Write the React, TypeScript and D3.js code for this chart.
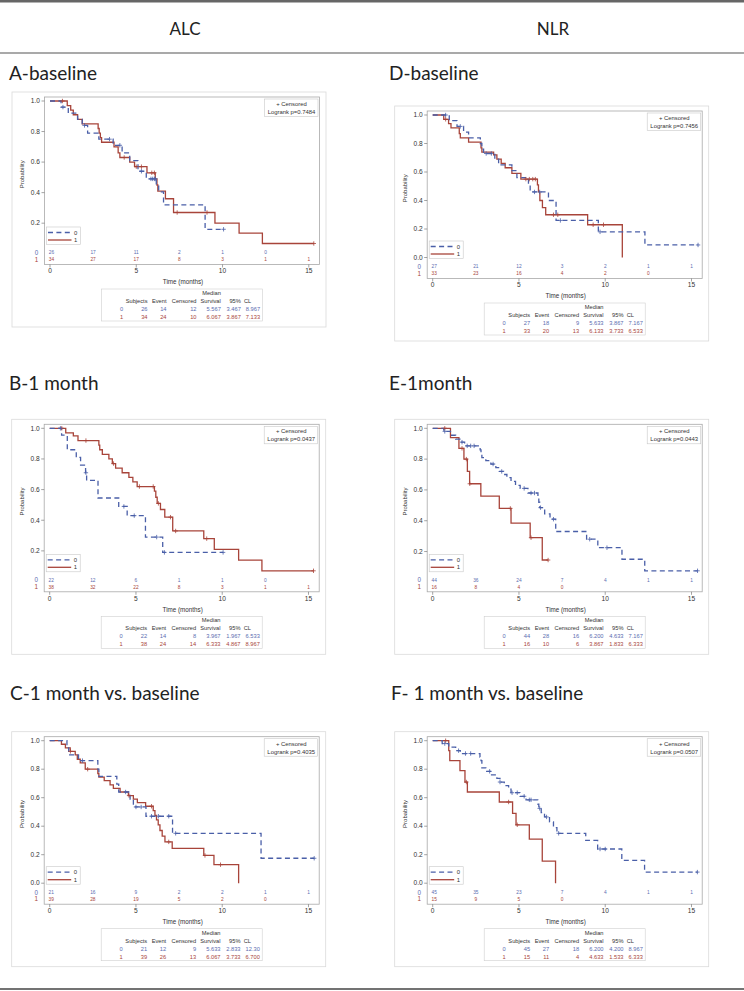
import React from "react";
import * as d3 from "d3";

type Step = [number, number];

// ---------------- Values ----------------
const columnHeaders = ["ALC", "NLR"];
const panelTitles = ["A-baseline", "B-1 month", "C-1 month vs. baseline", "D-baseline", "E-1month", "F- 1 month vs. baseline"];
const logrankP = ["0.7484", "0.0437", "0.4035", "0.7456", "0.0443", "0.0507"];
const xTicks = [0, 5, 10, 15];
const riskTimes = [0, 2.5, 5, 7.5, 10, 12.5, 15];
const yTickValues = [0, 0.2, 0.4, 0.6, 0.8, 1.0];
const tableHeader = ["Subjects", "Event", "Censored", "Survival", "95%"];

// Panel A (ALC baseline)
const aSteps0: Step[] = [[0.64, 0.96], [1.06, 0.92], [1.6, 0.88], [1.87, 0.84], [2.18, 0.79], [2.83, 0.75], [3.66, 0.71], [4.18, 0.66], [4.62, 0.61], [5.1, 0.54], [5.58, 0.49], [6.16, 0.45], [6.3, 0.405], [6.58, 0.32], [8.99, 0.16]];
const aEnd0 = 10.06;
const aCens0 = [0.75, 2.0, 3.45, 4.05, 5.3, 5.85, 5.95, 6.05, 6.1, 10.06];
const aSteps1: Step[] = [[1.0, 0.97], [1.2, 0.94], [1.35, 0.91], [1.6, 0.88], [1.87, 0.85], [2.79, 0.82], [2.85, 0.79], [2.92, 0.76], [2.99, 0.73], [3.71, 0.70], [3.95, 0.66], [4.05, 0.63], [4.62, 0.60], [4.9, 0.57], [5.62, 0.53], [6.1, 0.49], [6.2, 0.45], [6.25, 0.41], [6.69, 0.36], [7.16, 0.27], [9.56, 0.20], [10.96, 0.135], [12.31, 0.067]];
const aEnd1 = 15.29;
const aCens1 = [0.72, 4.3, 5.0, 5.3, 5.9, 6.05, 7.37, 9.1, 15.29];
const aRisk0 = [26, 17, 11, 2, 1, 0];
const aRisk1 = [34, 27, 17, 8, 3, 1, 1];
const aTable0 = ["26", "14", "12", "5.567", "3.467", "8.967"];
const aTable1 = ["34", "24", "10", "6.067", "3.867", "7.133"];

// Panel B (ALC 1 month)
const bSteps0: Step[] = [[0.69, 0.955], [1.02, 0.86], [1.54, 0.81], [1.79, 0.76], [2.08, 0.71], [2.14, 0.66], [2.8, 0.545], [4.0, 0.49], [4.49, 0.43], [5.55, 0.29], [6.55, 0.19]];
const bEnd0 = 10.05;
const bCens0 = [0.62, 2.1, 4.3, 4.9, 6.2, 6.65, 10.05];
const bSteps1: Step[] = [[0.93, 0.97], [1.37, 0.95], [1.64, 0.92], [2.85, 0.89], [2.9, 0.86], [3.05, 0.83], [3.43, 0.80], [3.63, 0.77], [3.82, 0.74], [4.2, 0.71], [4.59, 0.68], [4.82, 0.65], [5.07, 0.62], [6.07, 0.59], [6.15, 0.55], [6.23, 0.51], [6.42, 0.47], [6.67, 0.42], [7.13, 0.33], [8.93, 0.28], [9.54, 0.21], [10.95, 0.14], [12.3, 0.07]];
const bEnd1 = 15.29;
const bCens1 = [0.7, 2.1, 3.7, 5.2, 6.0, 6.3, 7.0, 7.3, 9.1, 15.29];
const bRisk0 = [22, 12, 6, 1, 1, 0];
const bRisk1 = [38, 32, 22, 8, 3, 1, 1];
const bTable0 = ["22", "14", "8", "3.967", "1.967", "6.533"];
const bTable1 = ["38", "24", "14", "6.333", "4.867", "8.967"];

// Panel C (ALC 1 month vs. baseline)
const cSteps0: Step[] = [[1.0, 0.95], [1.1, 0.90], [1.67, 0.86], [2.79, 0.80], [2.85, 0.75], [3.89, 0.695], [4.0, 0.64], [4.66, 0.59], [4.85, 0.535], [5.58, 0.47], [7.12, 0.35], [12.25, 0.175]];
const cEnd0 = 15.33;
const cCens0 = [1.9, 4.4, 5.0, 5.3, 5.9, 6.3, 6.9, 7.3, 15.33];
const cSteps1: Step[] = [[0.68, 0.975], [0.91, 0.95], [1.19, 0.925], [1.48, 0.90], [1.6, 0.87], [1.77, 0.845], [2.06, 0.80], [2.79, 0.77], [2.85, 0.745], [3.16, 0.72], [3.5, 0.69], [3.69, 0.665], [4.08, 0.64], [4.56, 0.615], [4.85, 0.59], [5.08, 0.565], [5.56, 0.54], [6.0, 0.51], [6.1, 0.475], [6.19, 0.445], [6.29, 0.41], [6.39, 0.37], [6.52, 0.33], [6.68, 0.29], [7.1, 0.245], [8.93, 0.195], [9.52, 0.13], [10.95, 0]];
const cEnd1 = 10.95;
const cCens1 = [1.2, 2.2, 4.6, 5.9, 6.9, 9.0, 9.9];
const cRisk0 = [21, 16, 9, 2, 2, 1, 1];
const cRisk1 = [39, 28, 19, 5, 2, 0];
const cTable0 = ["21", "12", "9", "5.633", "2.833", "12.30"];
const cTable1 = ["39", "26", "13", "6.067", "3.733", "6.700"];

// Panel D (NLR baseline)
const dSteps0: Step[] = [[0.96, 0.96], [1.41, 0.92], [1.79, 0.88], [2.08, 0.84], [2.76, 0.80], [2.85, 0.76], [2.95, 0.73], [3.6, 0.69], [3.82, 0.65], [4.59, 0.61], [4.88, 0.56], [5.55, 0.51], [5.65, 0.46], [6.71, 0.40], [7.15, 0.26], [9.6, 0.18], [12.3, 0.088]];
const dEnd0 = 15.38;
const dCens0 = [0.75, 1.6, 3.1, 3.4, 5.9, 6.2, 7.4, 9.7, 15.38];
const dSteps1: Step[] = [[0.64, 0.97], [0.92, 0.94], [1.06, 0.91], [1.54, 0.87], [1.6, 0.84], [2.08, 0.81], [2.8, 0.77], [2.85, 0.74], [3.53, 0.72], [3.72, 0.69], [3.97, 0.66], [4.2, 0.63], [4.59, 0.59], [5.11, 0.55], [6.07, 0.51], [6.13, 0.46], [6.21, 0.40], [6.36, 0.35], [6.55, 0.30], [8.98, 0.23], [10.99, 0]];
const dEnd1 = 10.99;
const dCens1 = [0.75, 5.4, 5.6, 5.8, 5.95, 7.0, 7.25, 9.3, 9.9];
const dRisk0 = [27, 21, 12, 3, 2, 1, 1];
const dRisk1 = [33, 23, 16, 4, 2, 0];
const dTable0 = ["27", "18", "9", "5.633", "3.867", "7.167"];
const dTable1 = ["33", "20", "13", "6.133", "3.733", "6.533"];

// Panel E (NLR 1 month)
const eSteps0: Step[] = [[0.64, 0.98], [1.03, 0.955], [1.33, 0.93], [1.62, 0.91], [1.85, 0.886], [2.75, 0.86], [2.8, 0.835], [2.85, 0.81], [3.08, 0.79], [3.37, 0.768], [3.66, 0.745], [3.86, 0.72], [4.11, 0.70], [4.3, 0.68], [4.54, 0.655], [4.8, 0.63], [5.07, 0.61], [5.52, 0.58], [6.1, 0.55], [6.15, 0.52], [6.2, 0.485], [6.49, 0.445], [6.8, 0.41], [7.13, 0.33], [8.92, 0.28], [9.57, 0.225], [10.97, 0.15], [12.29, 0.075]];
const eEnd0 = 15.35;
const eCens0 = [0.7, 1.7, 2.0, 2.2, 2.4, 3.5, 4.0, 5.3, 5.7, 5.9, 6.25, 7.0, 9.1, 10.1, 15.35];
const eSteps1: Step[] = [[1.03, 0.94], [1.52, 0.87], [1.81, 0.80], [2.01, 0.72], [2.14, 0.64], [2.79, 0.56], [3.86, 0.48], [4.54, 0.385], [5.65, 0.29], [6.35, 0.145]];
const eEnd1 = 6.69;
const eCens1 = [0.7, 1.7, 1.95, 2.15, 4.5, 5.7, 6.69];
const eRisk0 = [44, 36, 24, 7, 4, 1, 1];
const eRisk1 = [16, 8, 4, 0];
const eTable0 = ["44", "28", "16", "6.200", "4.633", "7.167"];
const eTable1 = ["16", "10", "6", "3.867", "1.833", "6.333"];

// Panel F (NLR 1 month vs. baseline)
const fSteps0: Step[] = [[0.55, 0.98], [0.93, 0.955], [1.33, 0.93], [1.6, 0.91], [2.74, 0.885], [2.8, 0.86], [2.85, 0.81], [3.08, 0.785], [3.41, 0.76], [3.72, 0.735], [3.9, 0.71], [4.15, 0.685], [4.4, 0.66], [4.54, 0.635], [5.06, 0.61], [5.41, 0.585], [6.09, 0.555], [6.15, 0.525], [6.29, 0.495], [6.48, 0.465], [6.77, 0.43], [7.0, 0.39], [7.2, 0.35], [8.87, 0.30], [9.56, 0.24], [10.96, 0.16], [12.28, 0.078]];
const fEnd0 = 15.34;
const fCens0 = [0.7, 1.5, 1.9, 2.2, 3.3, 3.9, 4.6, 4.9, 5.3, 5.6, 5.7, 6.2, 6.6, 7.3, 9.7, 10.0, 15.34];
const fSteps1: Step[] = [[0.93, 0.93], [0.99, 0.86], [1.58, 0.79], [1.87, 0.71], [2.01, 0.64], [3.86, 0.57], [4.63, 0.49], [4.83, 0.41], [5.6, 0.31], [6.35, 0.155], [7.12, 0]];
const fEnd1 = 7.12;
const fCens1 = [0.75, 1.95, 4.4, 4.9];
const fRisk0 = [45, 35, 23, 7, 4, 1, 1];
const fRisk1 = [15, 9, 5, 0];
const fTable0 = ["45", "27", "18", "6.200", "4.200", "8.967"];
const fTable1 = ["15", "11", "4", "4.633", "1.533", "6.333"];

// ---------------- Styling / layout ----------------
const BLUE = "#4a5fa8";
const BLUE_TXT = "#5b6cb0";
const RED = "#a8443a";
const RED_TXT = "#a8443a";
const SAS_FONT = "'Liberation Sans', Arial, sans-serif";
const TITLE_FONT = "Lato, 'Open Sans', sans-serif";

const PW = 314;
const PH = 235;
const LY = {
  plotLeft: 32.5, plotRight: 307.5, plotTop: 5, plotBottom: 172.5,
  x0: 38, x15: 296.8, yTop: 9, yBot: 151.5,
  risk0: 160.8, risk1: 167.6, tickLab: 179, timeLab: 190,
  tableLeft: 89.5, tableTop: 197, tableW: 161, tableH: 32,
};

interface PanelDef {
  ox: number; oy: number; title: string; tx: number; ty: number; p: string;
  steps0: Step[]; end0: number; cens0: number[];
  steps1: Step[]; end1: number; cens1: number[];
  risk0: number[]; risk1: number[]; table0: string[]; table1: string[];
}

const panels: PanelDef[] = [
  { ox: 12, oy: 92, title: panelTitles[0], tx: 9, ty: 80, p: logrankP[0], steps0: aSteps0, end0: aEnd0, cens0: aCens0, steps1: aSteps1, end1: aEnd1, cens1: aCens1, risk0: aRisk0, risk1: aRisk1, table0: aTable0, table1: aTable1 },
  { ox: 11.7, oy: 419.3, title: panelTitles[1], tx: 9, ty: 390, p: logrankP[1], steps0: bSteps0, end0: bEnd0, cens0: bCens0, steps1: bSteps1, end1: bEnd1, cens1: bCens1, risk0: bRisk0, risk1: bRisk1, table0: bTable0, table1: bTable1 },
  { ox: 11.7, oy: 731.7, title: panelTitles[2], tx: 10, ty: 700, p: logrankP[2], steps0: cSteps0, end0: cEnd0, cens0: cCens0, steps1: cSteps1, end1: cEnd1, cens1: cCens1, risk0: cRisk0, risk1: cRisk1, table0: cTable0, table1: cTable1 },
  { ox: 394.7, oy: 106, title: panelTitles[3], tx: 389, ty: 80, p: logrankP[3], steps0: dSteps0, end0: dEnd0, cens0: dCens0, steps1: dSteps1, end1: dEnd1, cens1: dCens1, risk0: dRisk0, risk1: dRisk1, table0: dTable0, table1: dTable1 },
  { ox: 394.7, oy: 419.3, title: panelTitles[4], tx: 389, ty: 390, p: logrankP[4], steps0: eSteps0, end0: eEnd0, cens0: eCens0, steps1: eSteps1, end1: eEnd1, cens1: eCens1, risk0: eRisk0, risk1: eRisk1, table0: eTable0, table1: eTable1 },
  { ox: 394.7, oy: 731.7, title: panelTitles[5], tx: 391, ty: 700, p: logrankP[5], steps0: fSteps0, end0: fEnd0, cens0: fCens0, steps1: fSteps1, end1: fEnd1, cens1: fCens1, risk0: fRisk0, risk1: fRisk1, table0: fTable0, table1: fTable1 },
];

function survAt(steps: Step[], t: number): number {
  let s = 1;
  for (const [tt, v] of steps) if (tt <= t + 1e-9) s = v;
  return s;
}

function KMPanel({ d }: { d: PanelDef }) {
  const x = d3.scaleLinear().domain([0, 15]).range([LY.x0, LY.x15]);
  const pmin = Math.min(d3.min(d.steps0, (s) => s[1]) ?? 0, d3.min(d.steps1, (s) => s[1]) ?? 0);
  const y = d3.scaleLinear().domain([pmin, 1]).range([LY.yBot, LY.yTop]);
  const line = d3.line<Step>().x((s) => x(s[0])).y((s) => y(s[1])).curve(d3.curveStepAfter);
  const pts = (steps: Step[], end: number): Step[] => [[0, 1], ...steps, [end, steps[steps.length - 1][1]]];
  const yTicks = yTickValues.filter((v) => v >= pmin - 1e-9);
  const fmt = d3.format(".1f");
  const cross = (t: number, steps: Step[], color: string, key: string) => {
    const cx = x(t), cy = y(survAt(steps, t));
    return (
      <g key={key} stroke={color} strokeWidth={0.8}>
        <line x1={cx - 2.2} x2={cx + 2.2} y1={cy} y2={cy} />
        <line x1={cx} x2={cx} y1={cy - 2.2} y2={cy + 2.2} />
      </g>
    );
  };
  const tl = LY.tableLeft;
  const cols = [46, 65, 95, 119.3, 139.3, 158.6];
  const rowY = [LY.tableTop + 20, LY.tableTop + 28];
  return (
    <g transform={`translate(${d.ox},${d.oy})`}>
      <rect x={0} y={0} width={PW} height={PH} fill="#fff" stroke="#dadada" strokeWidth={0.8} />
      <rect x={LY.plotLeft} y={LY.plotTop} width={LY.plotRight - LY.plotLeft} height={LY.plotBottom - LY.plotTop} fill="#fff" stroke="#a8a8a8" strokeWidth={0.8} />
      {yTicks.map((v) => (
        <g key={"yt" + v}>
          <line x1={LY.plotLeft - 3} x2={LY.plotLeft} y1={y(v)} y2={y(v)} stroke="#666" strokeWidth={0.6} />
          <text x={LY.plotLeft - 4.5} y={y(v)} dy="0.35em" textAnchor="end" fontSize={6.6} fontFamily={SAS_FONT} fill="#333">{fmt(v)}</text>
        </g>
      ))}
      <text transform={`translate(10,${(LY.yTop + LY.yBot) / 2 + 2}) rotate(-90)`} textAnchor="middle" dy="0.35em" fontSize={6} fontFamily={SAS_FONT} fill="#333">Probability</text>
      {xTicks.map((v) => (
        <g key={"xt" + v}>
          <line x1={x(v)} x2={x(v)} y1={LY.plotBottom} y2={LY.plotBottom + 3} stroke="#666" strokeWidth={0.6} />
          <text x={x(v)} y={LY.tickLab} dy="0.35em" textAnchor="middle" fontSize={6.6} fontFamily={SAS_FONT} fill="#333">{v}</text>
        </g>
      ))}
      <text x={(LY.plotLeft + LY.plotRight) / 2 + 1} y={LY.timeLab} dy="0.35em" textAnchor="middle" fontSize={6.3} fontFamily={SAS_FONT} fill="#333">Time (months)</text>
      <path d={line(pts(d.steps1, d.end1)) ?? ""} fill="none" stroke={RED} strokeWidth={1.3} />
      <path d={line(pts(d.steps0, d.end0)) ?? ""} fill="none" stroke={BLUE} strokeWidth={1.3} strokeDasharray="5 3.4" />
      {d.cens1.map((t, i) => cross(t, d.steps1, RED, "c1" + i))}
      {d.cens0.map((t, i) => cross(t, d.steps0, BLUE, "c0" + i))}
      <rect x={LY.plotRight - 55} y={7} width={53.5} height={17.5} fill="#fff" stroke="#c8c8c8" strokeWidth={0.6} />
      <text x={LY.plotRight - 28} y={12} dy="0.35em" textAnchor="middle" fontSize={5.9} fontFamily={SAS_FONT} fill="#333">+ Censored</text>
      <text x={LY.plotRight - 28} y={20} dy="0.35em" textAnchor="middle" fontSize={5.9} fontFamily={SAS_FONT} fill="#333">{"Logrank p=" + d.p}</text>
      <rect x={LY.plotLeft + 2} y={135} width={34} height={17.5} fill="#fff" stroke="#c8c8c8" strokeWidth={0.6} />
      <line x1={LY.plotLeft + 3.5} x2={LY.plotLeft + 27} y1={140.5} y2={140.5} stroke={BLUE} strokeWidth={1.3} strokeDasharray="5 3.4" />
      <text x={LY.plotLeft + 29.5} y={140.5} dy="0.35em" fontSize={5.9} fontFamily={SAS_FONT} fill="#333">0</text>
      <line x1={LY.plotLeft + 3.5} x2={LY.plotLeft + 27} y1={148} y2={148} stroke={RED} strokeWidth={1.3} />
      <text x={LY.plotLeft + 29.5} y={148} dy="0.35em" fontSize={5.9} fontFamily={SAS_FONT} fill="#333">1</text>
      <text x={LY.plotLeft - 8} y={LY.risk0} dy="0.35em" textAnchor="middle" fontSize={6.3} fontFamily={SAS_FONT} fill={BLUE_TXT}>0</text>
      <text x={LY.plotLeft - 8} y={LY.risk1} dy="0.35em" textAnchor="middle" fontSize={6.3} fontFamily={SAS_FONT} fill={RED_TXT}>1</text>
      {d.risk0.map((n, i) => (
        <text key={"r0" + i} x={x(riskTimes[i]) + (i === 0 ? 1.5 : 0)} y={LY.risk0} dy="0.35em" textAnchor="middle" fontSize={4.8} fontFamily={SAS_FONT} fill={BLUE_TXT}>{n}</text>
      ))}
      {d.risk1.map((n, i) => (
        <text key={"r1" + i} x={x(riskTimes[i]) + (i === 0 ? 1.5 : 0)} y={LY.risk1} dy="0.35em" textAnchor="middle" fontSize={4.8} fontFamily={SAS_FONT} fill={RED_TXT}>{n}</text>
      ))}
      <rect x={tl} y={LY.tableTop} width={LY.tableW} height={LY.tableH} fill="#fff" stroke="#cfcfcf" strokeWidth={0.6} />
      <g fontSize={5.7} fontFamily={SAS_FONT}>
        <text x={tl + cols[3]} y={LY.tableTop + 4} dy="0.35em" textAnchor="end" fill="#333">Median</text>
        {tableHeader.map((h, i) => (
          <text key={"h" + i} x={tl + cols[i === 4 ? 4 : i]} y={LY.tableTop + 12} dy="0.35em" textAnchor="end" fill="#333">{h}</text>
        ))}
        <text x={tl + 142.5} y={LY.tableTop + 12} dy="0.35em" fill="#333">CL</text>
        {[d.table0, d.table1].map((row, r) => (
          <g key={"row" + r} fill={r === 0 ? BLUE_TXT : RED_TXT}>
            <text x={tl + 20} y={rowY[r]} dy="0.35em" textAnchor="middle">{r}</text>
            {row.map((v, i) => (
              <text key={i} x={tl + cols[i]} y={rowY[r]} dy="0.35em" textAnchor="end">{v}</text>
            ))}
          </g>
        ))}
      </g>
    </g>
  );
}

export default function App() {
  return (
    <svg width={744} height={991} viewBox="0 0 744 991" style={{ position: "absolute", left: 0, top: 0, background: "#fff" }}>
      <rect x={0} y={0} width={744} height={991} fill="#fff" />
      <line x1={0} x2={744} y1={1.2} y2={1.2} stroke="#666" strokeWidth={2.4} />
      <text x={185} y={29} dy="0.35em" textAnchor="middle" fontSize={17} fontFamily={TITLE_FONT} fill="#222">{columnHeaders[0]}</text>
      <text x={553} y={29} dy="0.35em" textAnchor="middle" fontSize={17} fontFamily={TITLE_FONT} fill="#222">{columnHeaders[1]}</text>
      <line x1={0} x2={744} y1={53} y2={53} stroke="#555" strokeWidth={1.2} />
      {panels.map((d, i) => (
        <text key={"t" + i} x={d.tx} y={d.ty} fontSize={19} fontFamily={TITLE_FONT} fill="#222">{d.title}</text>
      ))}
      {panels.map((d, i) => (
        <KMPanel key={i} d={d} />
      ))}
      <line x1={0} x2={744} y1={989} y2={989} stroke="#444" strokeWidth={1.4} />
    </svg>
  );
}
